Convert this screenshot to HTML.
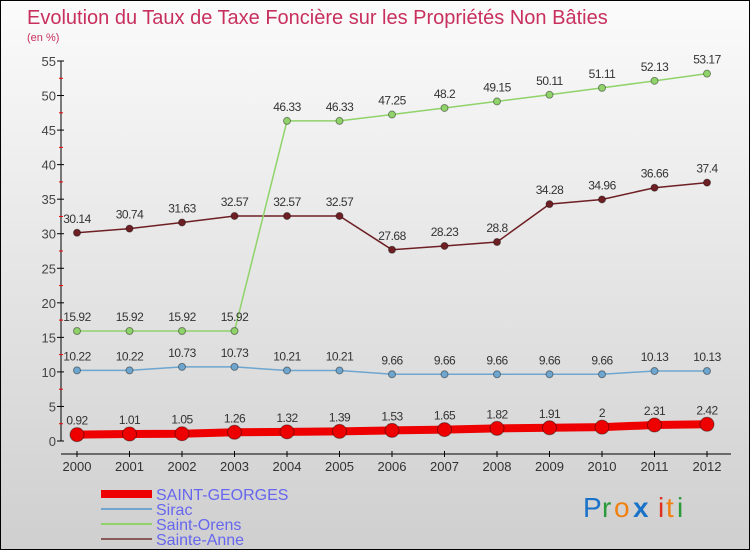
<!DOCTYPE html>
<html><head><meta charset="utf-8"><style>
body{margin:0}
#c{width:750px;height:550px;position:relative;box-sizing:border-box;border:1px solid #000;background:linear-gradient(#fbfbfb,#cfcfcf);font-family:"Liberation Sans",sans-serif;overflow:hidden}
text{font-family:"Liberation Sans",sans-serif}
</style></head><body>
<div id="c">
<svg id="s" width="750" height="550">
<text x="26" y="23" font-size="20" fill="#c8305e">Evolution du Taux de Taxe Foncière sur les Propriétés Non Bâties</text>
<text x="26" y="40" font-size="11" fill="#c8305e">(en %)</text>
<g id="g"></g>
<g>
<rect x="100" y="489" width="51" height="8" fill="#e00"/>
<text x="155" y="499" font-size="16" fill="#6666ee">SAINT-GEORGES</text>
<rect x="100" y="507" width="51" height="2" fill="#6ea6cf"/>
<text x="155" y="514" font-size="16" fill="#6666ee">Sirac</text>
<rect x="100" y="522" width="51" height="2" fill="#8fd36a"/>
<text x="155" y="529" font-size="16" fill="#6666ee">Saint-Orens</text>
<rect x="100" y="537" width="51" height="2" fill="#8a5a5a"/>
<text x="155" y="544" font-size="16" fill="#6666ee">Sainte-Anne</text>
</g>
<g font-size="28">
<text x="582" y="516" fill="#1a73c8">P</text><text x="601" y="516" fill="#2a9a3a">r</text><text x="613" y="516" fill="#f08010">o</text><text x="632" y="516" fill="#1a73c8" font-weight="bold">x</text><text x="657" y="516" fill="#e03020">i</text><text x="665" y="516" fill="#f08010">t</text><text x="676" y="516" fill="#2a9a3a">i</text>
</g>
</svg>
</div>
<script>
const years=[2000,2001,2002,2003,2004,2005,2006,2007,2008,2009,2010,2011,2012];
const yTicks=[0,5,10,15,20,25,30,35,40,45,50,55];
const saintGeorges=[0.92,1.01,1.05,1.26,1.32,1.39,1.53,1.65,1.82,1.91,2,2.31,2.42];
const sirac=[10.22,10.22,10.73,10.73,10.21,10.21,9.66,9.66,9.66,9.66,9.66,10.13,10.13];
const saintOrens=[15.92,15.92,15.92,15.92,46.33,46.33,47.25,48.2,49.15,50.11,51.11,52.13,53.17];
const sainteAnne=[30.14,30.74,31.63,32.57,32.57,32.57,27.68,28.23,28.8,34.28,34.96,36.66,37.4];
const NS='http://www.w3.org/2000/svg';
const g=document.getElementById('g');
const X=i=>76+i*52.5, Y=v=>440-v*380/55;
function mk(t,a,p){const e=document.createElementNS(NS,t);for(const k in a)e.setAttribute(k,a[k]);(p||g).appendChild(e);return e;}
let e=mk('line',{x1:60,y1:60,x2:60,y2:440,stroke:'#000'});

e=mk('line',{x1:60,y1:453,x2:730,y2:453,stroke:'#000'});

yTicks.forEach(v=>{
  mk('line',{x1:56,x2:63,y1:Y(v),y2:Y(v),stroke:'#000'});
  if(v<55)mk('line',{x1:58,x2:62,y1:Y(v+2.5),y2:Y(v+2.5),stroke:'#e00'});
  e=mk('text',{x:55,y:Y(v)+5,'font-size':13,fill:'#444','text-anchor':'end'});e.textContent=v;
  
});
years.forEach((y,i)=>{
  mk('line',{x1:X(i),x2:X(i),y1:450,y2:456,stroke:'#000'});
  e=mk('text',{x:X(i),y:470,'font-size':13,fill:'#333','text-anchor':'middle'});e.textContent=y;
  
});
function series(d,name,col,w,r){
  const grp=mk('g',{});
  
  mk('polyline',{points:d.map((v,i)=>X(i)+','+Y(v)).join(' '),fill:'none',stroke:col,'stroke-width':w},grp);
  d.forEach((v,i)=>{
    const c=mk('circle',{cx:X(i),cy:Y(v),r:r,fill:col,stroke:'rgba(0,0,0,0.4)','stroke-width':1},grp);
    
    const t=mk('text',{x:X(i),y:Y(v)-10,'font-size':12,fill:'#333','text-anchor':'middle','letter-spacing':'-0.5'},grp);
    t.textContent=v;
    
  });
}
series(sainteAnne,'sainte-anne','#6e1f24',1.5,3.5);
series(saintOrens,'saint-orens','#8fd36a',1.5,3.5);
series(sirac,'sirac','#6ea6cf',1.5,3.5);
series(saintGeorges,'saint-georges','#e00',8,7);
</script>
</body></html>
